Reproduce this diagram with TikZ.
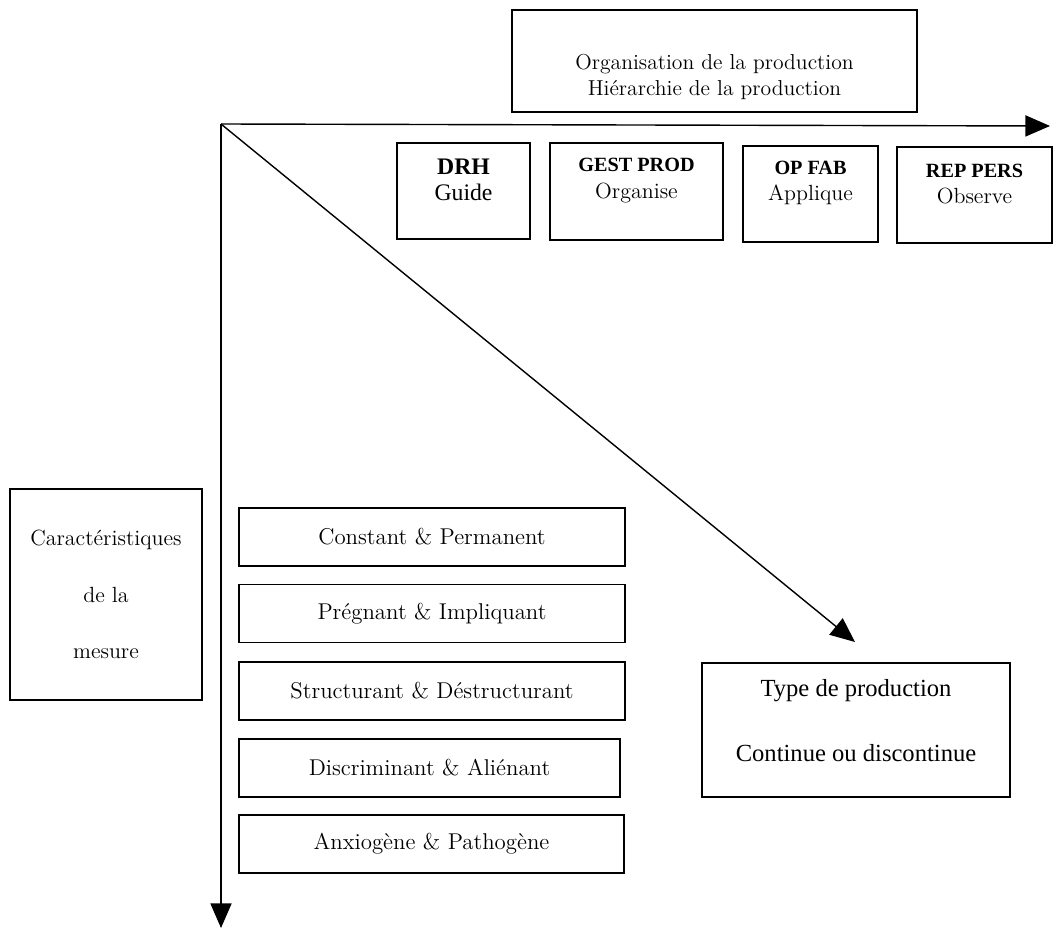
\documentclass[tikz,border=0pt]{standalone}
\usepackage{fontspec}
\newfontfamily\timesfont{Liberation Serif}
\newcommand{\capsfont}{\timesfont\bfseries\fontsize{11.5}{15}\selectfont}
\usepackage{tikz}
\usetikzlibrary{arrows.meta}

\tikzset{
  box/.style={draw, line width=0.8pt, inner sep=0pt},
  txt/.style={align=center, font=\fontsize{12.5}{15}\selectfont},
  stack/.style={box, txt, font=\fontsize{13}{15}\selectfont, minimum height=1.16cm},
  axis/.style={line width=0.8pt, -{Triangle[length=14pt,width=12pt]}}
}

\begin{document}
\begin{tikzpicture}[x=0.02cm, y=-0.02cm]
\useasboundingbox (0,0) rectangle (1053,929);
\coordinate (o) at (221,124);
\coordinate (xend) at (1050,126);
\coordinate (yend) at (221,928);
\coordinate (dend) at (855,642);
\node[box, minimum width=8.1cm, minimum height=2.04cm] (org) at (714.5,61) {};
\node[txt, font=\fontsize{12.3}{14.5}\selectfont] (orgtxt) at ([yshift=-0.32cm]org.center) {Organisation de la production\\Hiérarchie de la production};
\node[box, minimum width=2.66cm, minimum height=1.92cm] (drh) at (463.5,191) {};
\node[align=center, font=\timesfont\fontsize{13.5}{15}\selectfont] (drhtxt) at ([yshift=0.22cm]drh.center) {\textbf{DRH}\\Guide};
\node[box, minimum width=3.46cm, minimum height=1.94cm] (gest) at (636.5,191.5) {};
\node[txt] (gesttxt) at ([yshift=0.22cm]gest.center) {{\capsfont GEST PROD}\\Organise};
\node[box, minimum width=2.7cm, minimum height=1.92cm] (opfab) at (810.5,194) {};
\node[txt] (opfabtxt) at ([yshift=0.22cm]opfab.center) {{\capsfont OP FAB}\\Applique};
\node[box, minimum width=3.1cm, minimum height=1.92cm] (rep) at (974.5,195) {};
\node[txt] (reptxt) at ([yshift=0.22cm]rep.center) {{\capsfont REP PERS}\\Observe};
\node[box, txt, minimum width=3.84cm, minimum height=4.22cm] (carac) at (106,594.5) {Caractéristiques\\[0.6cm]de la\\[0.6cm]mesure};
\node[stack, minimum width=7.72cm] (c1) at (432,537) {Constant \& Permanent};
\node[stack, minimum width=7.72cm] (c2) at (432,613.5) {Prégnant \& Impliquant};
\node[stack, minimum width=7.72cm] (c3) at (432,691) {Structurant \& Déstructurant};
\node[stack, minimum width=7.62cm] (c4) at (429.5,768) {Discriminant \& Aliénant};
\node[stack, minimum width=7.7cm] (c5) at (431.5,844) {Anxiogène \& Pathogène};
\node[box, minimum width=6.16cm, minimum height=2.68cm] (type) at (856,730) {};
\node[align=center, font=\timesfont\fontsize{14}{17}\selectfont] (typetxt) at ([yshift=0.18cm]type.center) {Type de production\\[0.7cm]Continue ou discontinue};
\draw[axis] (o) -- (xend);
\draw[axis] (o) -- (yend);
\draw[axis] (o) -- (dend);
\end{tikzpicture}
\end{document}
